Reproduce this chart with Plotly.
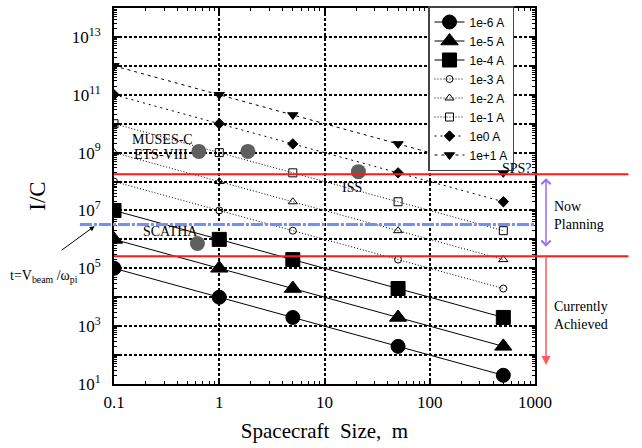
import plotly.graph_objects as go
import math

# ---------------- data ----------------
size_m = [0.1, 1, 5, 50, 500]
current_labels = ["1e-6 A", "1e-5 A", "1e-4 A", "1e-3 A", "1e-2 A", "1e-1 A", "1e0 A", "1e+1 A"]
ic_1e_6 = [1e5, 1e4, 2e3, 2e2, 2e1]
ic_1e_5 = [1e6, 1e5, 2e4, 2e3, 2e2]
ic_1e_4 = [1e7, 1e6, 2e5, 2e4, 2e3]
ic_1e_3 = [1e8, 1e7, 2e6, 2e5, 2e4]
ic_1e_2 = [1e9, 1e8, 2e7, 2e6, 2e5]
ic_1e_1 = [1e10, 1e9, 2e8, 2e7, 2e6]
ic_1e0 = [1e11, 1e10, 2e9, 2e8, 2e7]
ic_1e1 = [1e12, 1e11, 2e10, 2e9, 2e8]
series_values = [ic_1e_6, ic_1e_5, ic_1e_4, ic_1e_3, ic_1e_2, ic_1e_1, ic_1e0, ic_1e1]

spacecraft_names = ["MUSES-C / ETS-VIII", "MUSES-C / ETS-VIII", "SCATHA", "ISS", "SPS?"]
spacecraft_size = [0.64, 1.87, 0.62, 21, 365]
spacecraft_ic = [1.1e9, 1.1e9, 7.2e5, 2.2e8, 5.8e8]

upper_limit_ic = 1.8e8      # red line (upper)
lower_limit_ic = 2.6e5      # red line (lower)
beam_time_ic = 3.3e6        # blue dash-dot line
achieved_arrow_end_ic = 45

x_tickvals = [0.1, 1, 10, 100, 1000]
x_ticktext = ["0.1", "1", "10", "100", "1000"]
y_exponents = list(range(1, 15))
y_tickvals = [10 ** e for e in y_exponents]
y_ticktext = [f"10<sup>{e}</sup>" if e % 2 == 1 and e < 14 else "" for e in y_exponents]

# ---------------- styles ----------------
styles = [
    dict(symbol="circle", size=14, dash="solid"),
    dict(symbol="triangle-up", size=15, dash="solid"),
    dict(symbol="square", size=14, dash="solid"),
    dict(symbol="circle-open", size=7, dash="1px,2px"),
    dict(symbol="triangle-up-open", size=8, dash="1px,2px"),
    dict(symbol="square-open", size=8, dash="1px,2px"),
    dict(symbol="diamond", size=8, dash="2px,4px"),
    dict(symbol="triangle-down", size=9, dash="3px,4px"),
]

SERIF = "Liberation Serif, Times New Roman, serif"
SANS = "Liberation Sans, Arial, sans-serif"

fig = go.Figure()

for name, vals, st in zip(current_labels, series_values, styles):
    fig.add_trace(go.Scatter(
        x=size_m, y=vals, name=name, mode="lines+markers",
        line=dict(color="black", width=1, dash=st["dash"]),
        marker=dict(symbol=st["symbol"], size=st["size"], color="black",
                    line=dict(color="black", width=1)),
    ))

fig.add_trace(go.Scatter(
    x=spacecraft_size, y=spacecraft_ic, mode="markers", showlegend=False,
    marker=dict(symbol="circle", size=15, color="#5f5f5f"),
    hovertext=spacecraft_names,
))

# reference lines
fig.add_shape(type="line", xref="paper", yref="y", x0=0, x1=1.222,
              y0=upper_limit_ic, y1=upper_limit_ic, line=dict(color="#ff1a1a", width=2))
fig.add_shape(type="line", xref="paper", yref="y", x0=0, x1=1.222,
              y0=lower_limit_ic, y1=lower_limit_ic, line=dict(color="#ff1a1a", width=2))
fig.add_shape(type="line", xref="paper", yref="y", x0=-0.081, x1=1.0,
              y0=beam_time_ic, y1=beam_time_ic,
              line=dict(color="#6f93f2", width=3, dash="12px,2px,3px,2px"))

ann = []
def txt(text, x, y, size=14, xanchor="center", **kw):
    ann.append(dict(text=text, x=x, y=y, xref="paper", yref="paper", showarrow=False,
                    xanchor=xanchor, yanchor="middle",
                    font=dict(family=SERIF, size=size, color="black"), **kw))

# paper coordinates helpers (plot area 114..535 x, 7..384 y)
L, R, T, B = 114, 535, 7, 384
px = lambda x: (x - L) / (R - L)
py = lambda y: (B - y) / (B - T)

txt("MUSES-C", px(162), py(139))
txt("ETS-VIII", px(161), py(154))
txt("SCATHA", px(170), py(231))
txt("ISS", px(352), py(187))
txt("SPS?", px(517), py(168))
txt("Now<br>Planning", px(552), py(215), xanchor="left", align="left")
txt("Currently<br>Achieved", px(552), py(315), xanchor="left", align="left")
txt("t=V<sub>beam</sub> /ω<sub>pi</sub>", px(44), py(276), size=14)

# arrows
ann.append(dict(x=px(546), y=math.log10(upper_limit_ic), xref="paper", yref="y",
                ax=0, ay=78, axref="pixel", ayref="pixel", showarrow=True, text="",
                arrowhead=4, startarrowhead=4, arrowside="end+start", arrowsize=1.2,
                arrowwidth=1.5, arrowcolor="#9a6df0", standoff=4, startstandoff=4))
ann.append(dict(x=px(546), y=math.log10(achieved_arrow_end_ic), xref="paper", yref="y",
                ax=0, ay=-110, axref="pixel", ayref="pixel", showarrow=True, text="",
                arrowhead=2, arrowsize=1.2, arrowwidth=1.5, arrowcolor="#ff5a5a"))
ann.append(dict(x=px(97), y=math.log10(beam_time_ic), xref="paper", yref="y",
                ax=-37, ay=27, axref="pixel", ayref="pixel", showarrow=True, text="",
                arrowhead=2, arrowsize=1, arrowwidth=1, arrowcolor="black", standoff=3))

fig.update_layout(annotations=ann)

axis_common = dict(
    type="log", showline=True, linecolor="black", linewidth=2, mirror="allticks",
    ticks="inside", ticklen=6, tickwidth=1.5, tickcolor="black",
    showgrid=True, gridcolor="black", gridwidth=1.5, griddash="3px,2px",
    zeroline=False, tickmode="array",
    tickfont=dict(family=SERIF, size=17, color="black"),
    minor=dict(ticks="inside", ticklen=3, tickwidth=1, tickcolor="black",
               dtick="D1", showgrid=False),
)

fig.update_xaxes(**axis_common, range=[-1, 3], tickvals=x_tickvals, ticktext=x_ticktext,
                 ticklabelstandoff=2,
                 title=dict(text="Spacecraft  Size,  m", standoff=12,
                            font=dict(family=SERIF, size=21, color="black")))
fig.update_yaxes(**axis_common, range=[1, 14], tickvals=y_tickvals, ticktext=y_ticktext,
                 ticklabelstandoff=8,
                 title=dict(text="I/C", standoff=20,
                            font=dict(family=SERIF, size=23, color="black")))

fig.update_layout(
    width=642, height=448,
    margin=dict(l=L, r=642 - R, t=T, b=448 - B),
    paper_bgcolor="white", plot_bgcolor="white",
    showlegend=True,
    legend=dict(x=px(428), y=py(6), xanchor="left", yanchor="top",
                bgcolor="white", bordercolor="#444444", borderwidth=1.5,
                font=dict(family=SANS, size=12, color="black"),
                itemsizing="trace", tracegroupgap=0),
)

fig.write_html("out.html")
